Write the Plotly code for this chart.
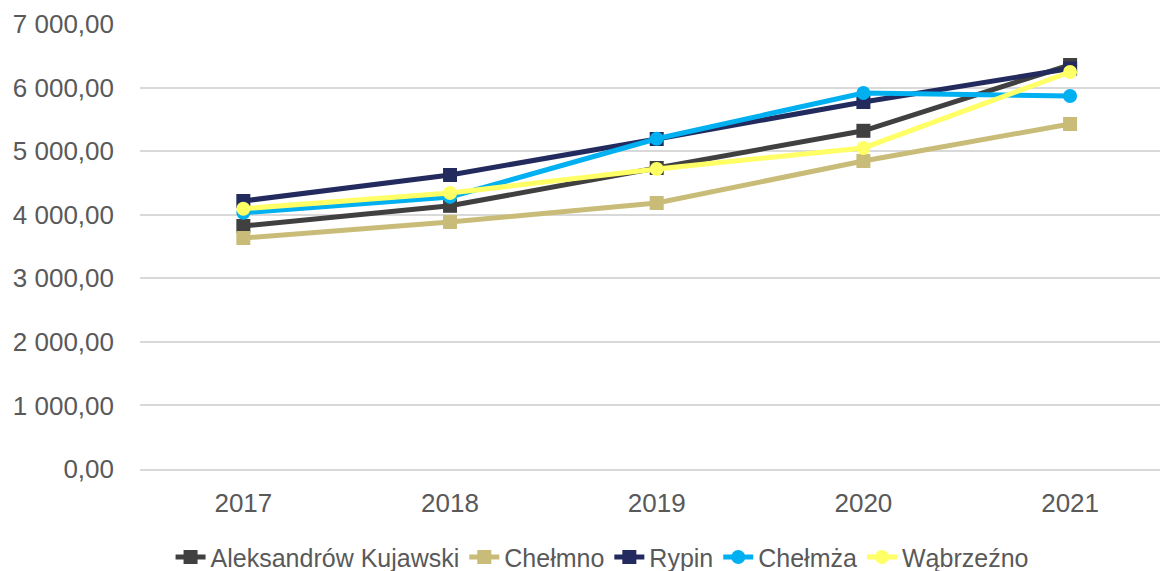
import plotly.graph_objects as go

years = ["2017", "2018", "2019", "2020", "2021"]
aleksandrow = [3823, 4140, 4735, 5320, 6355]
chelmno = [3634, 3885, 4184, 4845, 5427]
rypin = [4216, 4625, 5191, 5773, 6300]
chelmza = [4030, 4280, 5195, 5915, 5868]
wabrzezno = [4095, 4340, 4719, 5050, 6245]

series = [
    ("Aleksandrów Kujawski", aleksandrow, "#404040", "square"),
    ("Chełmno", chelmno, "#C9BC78", "square"),
    ("Rypin", rypin, "#222A5E", "square"),
    ("Chełmża", chelmza, "#00B0F0", "circle"),
    ("Wąbrzeźno", wabrzezno, "#FFFF66", "circle"),
]

fig = go.Figure()
for name, vals, col, sym in series:
    fig.add_trace(go.Scatter(
        x=years, y=vals, name=name, mode="lines+markers",
        line=dict(color=col, width=5),
        marker=dict(symbol=sym, size=14, color=col),
    ))

tickfont = dict(family="Liberation Sans, Arial, sans-serif", size=26, color="#595959")
legfont = dict(family="Liberation Sans, Arial, sans-serif", size=25, color="#595959")
fig.update_layout(
    width=1160, height=571,
    margin=dict(l=140, r=0, t=24, b=102),
    paper_bgcolor="white", plot_bgcolor="white",
    font=tickfont,
    showlegend=True,
    legend=dict(orientation="h", x=0.453, xanchor="center",
                yref="container", y=0.024, yanchor="middle",
                font=legfont, itemwidth=30, tracegroupgap=0),
)
fig.update_xaxes(
    type="category", range=[-0.5, 4.435], automargin=False,
    showgrid=False, showline=True, linecolor="#D9D9D9", linewidth=2,
    ticks="", ticklabelstandoff=10, tickfont=tickfont,
)
fig.update_yaxes(
    range=[0, 7000], automargin=False,
    tickvals=[0, 1000, 2000, 3000, 4000, 5000, 6000, 7000],
    ticktext=["0,00", "1 000,00", "2 000,00", "3 000,00", "4 000,00", "5 000,00", "6 000,00", "7 000,00"],
    showgrid=True, gridcolor="#D9D9D9", gridwidth=2, zeroline=False,
    showline=False, ticks="", ticklabelstandoff=25, tickfont=tickfont,
)
fig.write_html("out.html", config={"displayModeBar": False},
               post_script="document.body.style.margin='0';document.body.style.overflow='hidden';")
